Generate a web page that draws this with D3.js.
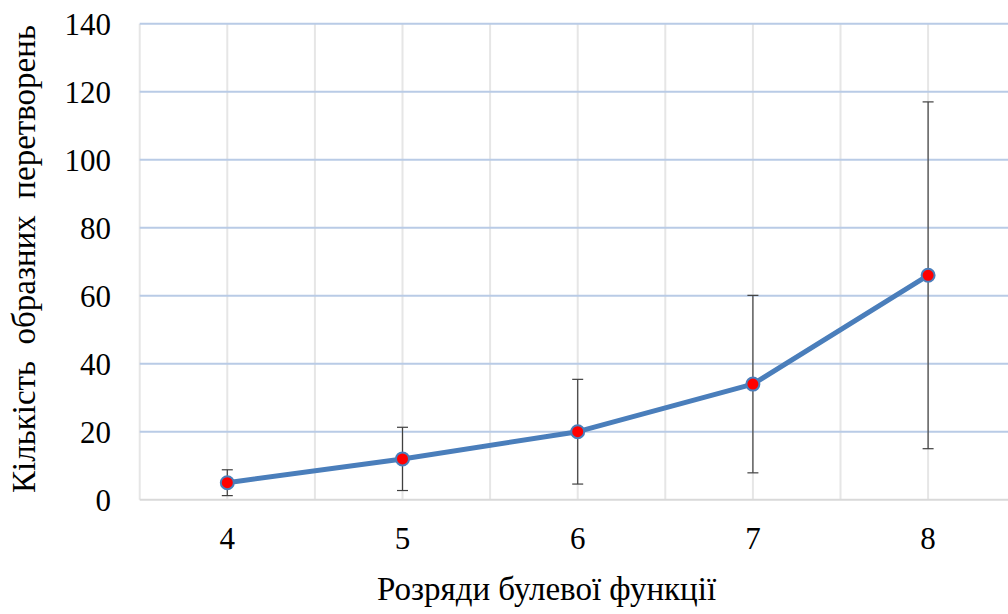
<!DOCTYPE html>
<html><head><meta charset="utf-8">
<script src="https://cdn.jsdelivr.net/npm/d3@7/dist/d3.min.js"></script>
</head>
<body style="margin:0;overflow:hidden;background:#fff"><svg id="c" width="1008" height="614"></svg>
<script>
const categories = ["4","5","6","7","8"];
const values = [5, 12, 20, 34, 66];
const errors = [3.8, 9.3, 15.4, 26.1, 51];
const yTicks = [0, 20, 40, 60, 80, 100, 120, 140];
const xTitle = "Розряди булевої функції";
const yTitle = "Кількість  образних  перетворень";

const FONT = `"Times New Roman", Tinos, "Liberation Serif", FreeSerif, serif`;
const svg = d3.select("#c");
const pLeft = 139.7, pRight = 1015.7, pTop = 23.7, pBottom = 499.7;
const x = d3.scaleBand().domain(categories).range([pLeft, pRight]).padding(0);
const bw = x.bandwidth();
const cx = c => x(c) + bw / 2;
const y = d3.scaleLinear().domain([0, 140]).range([pBottom, pTop]);

// vertical gridlines at band edges and centers
const vx = [];
categories.forEach(c => { vx.push(x(c)); vx.push(cx(c)); });
vx.push(pRight);
svg.append("g").selectAll("line").data(vx).join("line")
  .attr("x1", d => d).attr("x2", d => d).attr("y1", pTop).attr("y2", pBottom)
  .attr("stroke", "#e6e6e6").attr("stroke-width", 2);

// horizontal gridlines
svg.append("g").selectAll("line").data(yTicks.filter(t => t > 0)).join("line")
  .attr("x1", pLeft).attr("x2", pRight).attr("y1", d => y(d)).attr("y2", d => y(d))
  .attr("stroke", "#b9cbe6").attr("stroke-width", 2);

// baseline
svg.append("line").attr("x1", pLeft).attr("x2", pRight).attr("y1", y(0)).attr("y2", y(0))
  .attr("stroke", "#d9d9d9").attr("stroke-width", 2);

// y tick labels
yTicks.forEach(t => svg.append("text").attr("x", 111).attr("y", y(t) + 11)
  .attr("text-anchor", "end").attr("font-size", 31).attr("font-family", "Times New Roman")
  .style("font-family", FONT).text(t));

// x tick labels
categories.forEach(c => svg.append("text").attr("x", cx(c)).attr("y", 549)
  .attr("text-anchor", "middle").attr("font-size", 31).attr("font-family", "Times New Roman")
  .style("font-family", FONT).text(c));

// titles
svg.append("text").attr("x", 546.5).attr("y", 600).attr("text-anchor", "middle")
  .attr("font-size", 33).attr("font-family", "Times New Roman")
  .style("font-family", FONT).text(xTitle);
svg.append("text").attr("transform", "translate(35,259) rotate(-90)")
  .attr("text-anchor", "middle").attr("font-size", 33).attr("font-family", "Times New Roman")
  .style("font-family", FONT).style("white-space", "pre").text(yTitle);

// error bars
const eb = svg.append("g").attr("stroke", "#404040").attr("stroke-width", 1.2);
categories.forEach((c, i) => {
  const lo = y(values[i] - errors[i]), hi = y(values[i] + errors[i]), xc = cx(c);
  eb.append("line").attr("x1", xc).attr("x2", xc).attr("y1", lo).attr("y2", hi);
  eb.append("line").attr("x1", xc - 5.5).attr("x2", xc + 5.5).attr("y1", lo).attr("y2", lo);
  eb.append("line").attr("x1", xc - 5.5).attr("x2", xc + 5.5).attr("y1", hi).attr("y2", hi);
});

// line
const line = d3.line().x((d, i) => cx(categories[i])).y(d => y(d));
svg.append("path").datum(values).attr("d", line)
  .attr("fill", "none").attr("stroke", "#4a7ebb").attr("stroke-width", 5)
  .attr("stroke-linejoin", "round").attr("stroke-linecap", "round");

// markers
svg.append("g").selectAll("circle").data(values).join("circle")
  .attr("cx", (d, i) => cx(categories[i])).attr("cy", d => y(d)).attr("r", 6.5)
  .attr("fill", "#ff0000").attr("stroke", "#4a7ebb").attr("stroke-width", 2);
</script></body></html>
